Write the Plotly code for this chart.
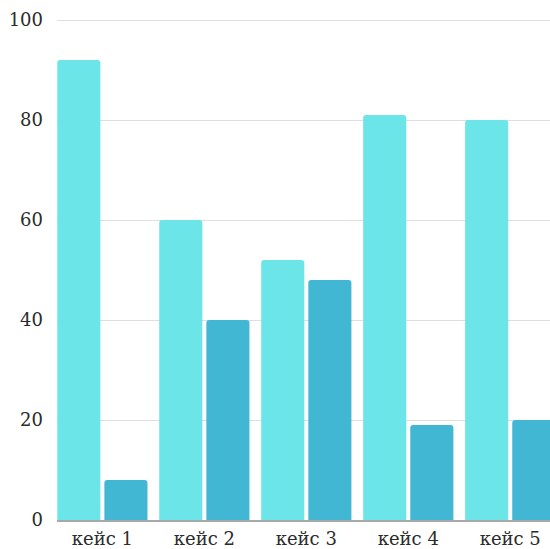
import plotly.graph_objects as go

categories = ["кейс 1", "кейс 2", "кейс 3", "кейс 4", "кейс 5"]
series_a = [92, 60, 52, 81, 80]
series_b = [8, 40, 48, 19, 20]
y_ticks = [0, 20, 40, 60, 80, 100]

font_family = "DejaVu Serif, Liberation Serif, serif"
text_color = "#2b2b2b"

fig = go.Figure()
fig.add_trace(go.Bar(x=categories, y=series_a, marker=dict(color="#6ce5e8", line=dict(width=0))))
fig.add_trace(go.Bar(x=categories, y=series_b, marker=dict(color="#42b7d4", line=dict(width=0))))

fig.update_layout(
    width=550,
    height=549,
    margin=dict(l=57, r=0, t=15, b=29),
    plot_bgcolor="white",
    paper_bgcolor="white",
    showlegend=False,
    barmode="group",
    bargap=0.076,
    bargroupgap=0.085,
    barcornerradius=3,
    font=dict(family=font_family, color=text_color, size=18),
)
fig.update_xaxes(
    range=[-0.445, 4.39],
    showgrid=False,
    showline=True,
    linecolor="#a8a8a8",
    linewidth=1.5,
    ticks="",
    ticklabelstandoff=2,
    tickfont=dict(size=18),
)
fig.update_yaxes(
    range=[0, 101],
    tickvals=y_ticks,
    showgrid=True,
    gridcolor="#dedede",
    gridwidth=1,
    zeroline=False,
    ticks="",
    ticklabelstandoff=13,
    tickfont=dict(size=18),
)

fig.write_html("out.html")
